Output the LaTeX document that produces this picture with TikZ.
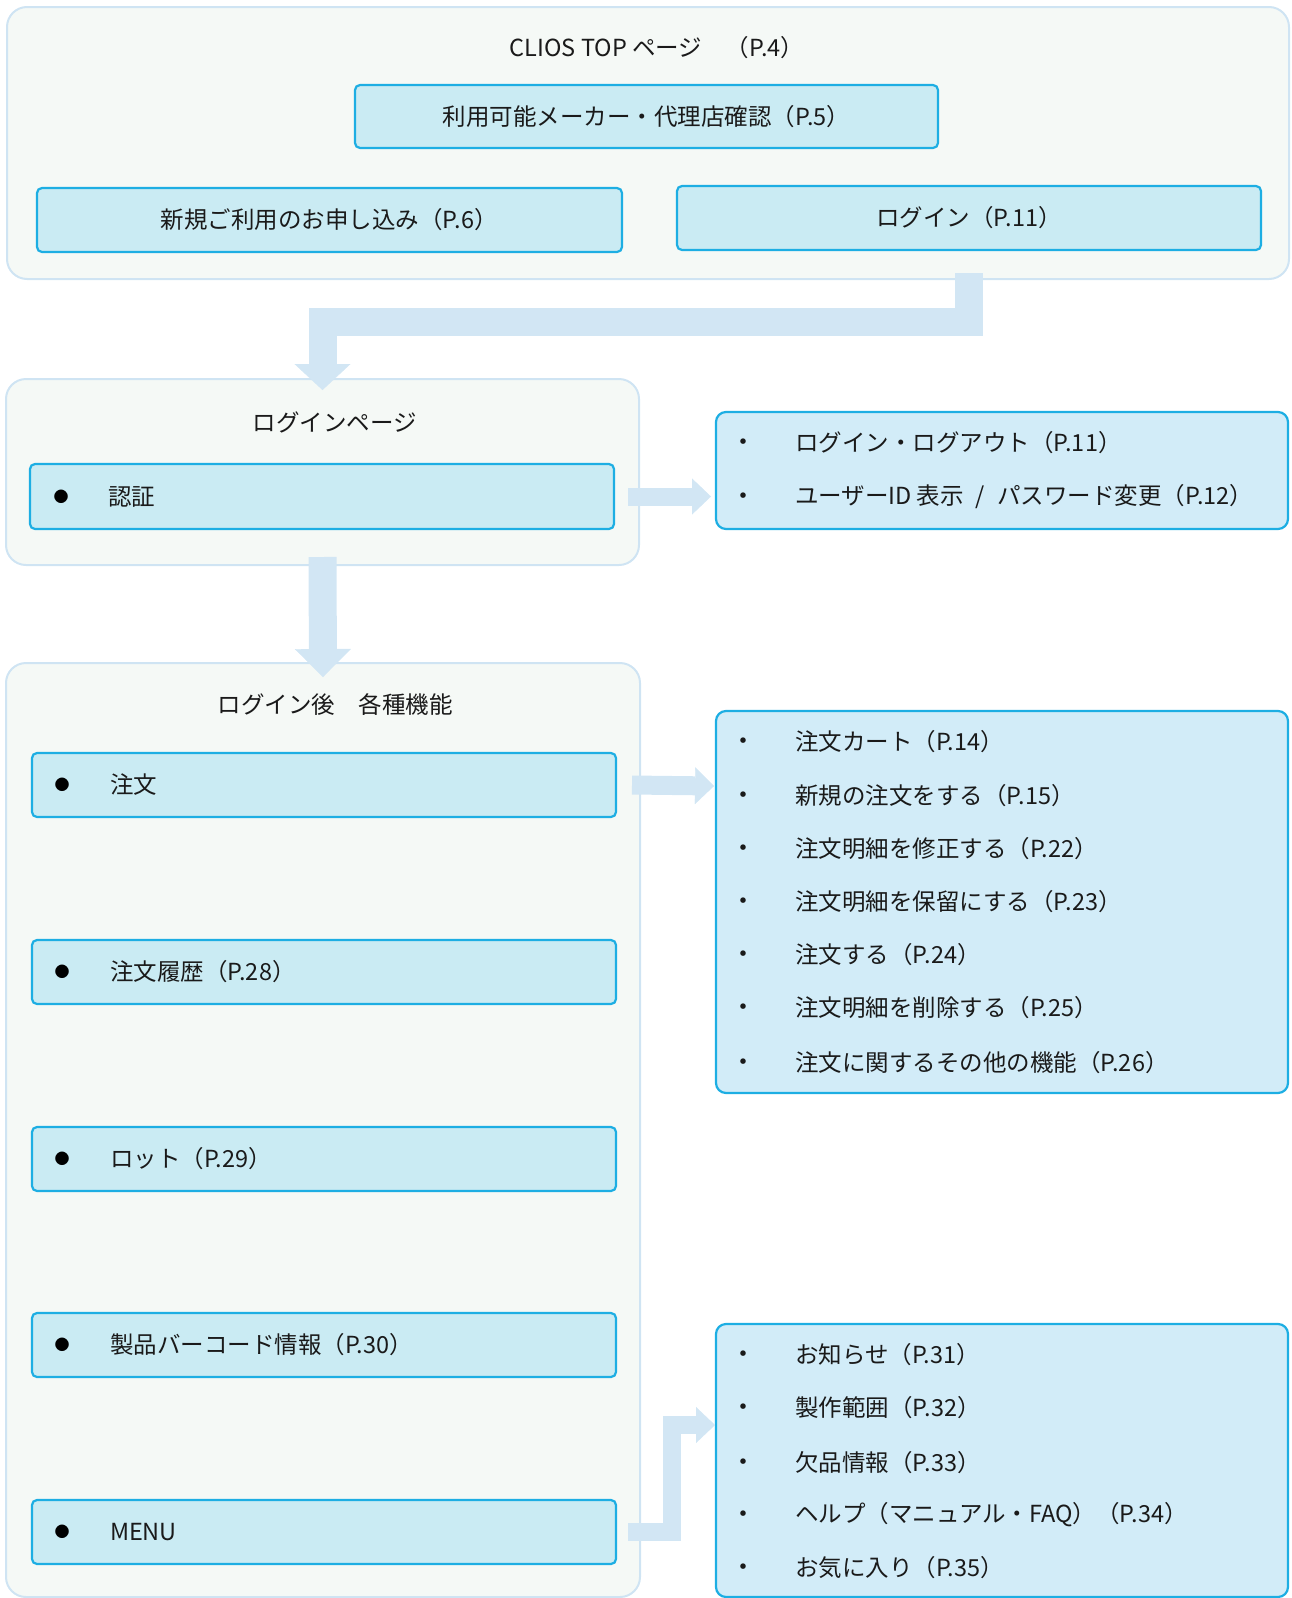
\documentclass[tikz,border=0pt]{standalone}
\usepackage{fontspec}
\newfontfamily\jp{Noto Sans CJK JP}
\usetikzlibrary{calc,arrows.meta}
\definecolor{contF}{HTML}{F5F9F6}
\definecolor{contB}{HTML}{CFE4F3}
\definecolor{lboxF}{HTML}{CAEBF3}
\definecolor{rboxF}{HTML}{D2ECF8}
\definecolor{boxB}{HTML}{1DAEE3}
\definecolor{flowC}{HTML}{D2E6F4}
\definecolor{txt}{HTML}{1A1A1A}
\begin{document}
\begin{tikzpicture}[x=1pt,y=-1pt,
  every node/.style={inner sep=0pt,outer sep=0pt},
  container/.style={draw=contB,fill=contF,line width=2pt,rounded corners=20pt,anchor=north west},
  lbox/.style={draw=boxB,fill=lboxF,line width=2.2pt,rounded corners=5pt,anchor=north west,
    font=\jp\fontsize{23.5pt}{28pt}\selectfont,text=txt},
  rbox/.style={draw=boxB,fill=rboxF,line width=2.2pt,rounded corners=10pt,anchor=north west},
  ttl/.style={font=\jp\fontsize{23.5pt}{28pt}\selectfont,text=txt},
  itm/.style={font=\jp\fontsize{23.5pt}{28pt}\selectfont,text=txt,anchor=west},
  dot/.style={font=\jp\fontsize{26pt}{30pt}\selectfont,text=txt},
  bigdot/.style={font=\jp\fontsize{15pt}{18pt}\selectfont,text=black},
  flow/.style={draw=flowC,line join=miter,line cap=butt},
]
\useasboundingbox (0,0) rectangle (1292,1598);

% ---------- containers ----------
\node[container,minimum width=1282pt,minimum height=272pt] (contA) at (7,7) {};
\node[container,minimum width=633pt,minimum height=186pt] (contB) at (6,379) {};
\node[container,minimum width=634pt,minimum height=934pt] (contC) at (6,663) {};

% ---------- top page ----------
\node[ttl] (tA) at (657,48) {CLIOS TOP ページ　（P.4）};
\node[lbox,minimum width=583pt,minimum height=63pt] (p5) at (355,85) {利用可能メーカー・代理店確認（P.5）};
\node[lbox,minimum width=585pt,minimum height=64pt] (p6) at (37,188) {新規ご利用のお申し込み（P.6）};
\node[lbox,minimum width=584pt,minimum height=64pt] (login) at (677,186) {ログイン（P.11）};

% ---------- login page ----------
\node[ttl] (tB) at (335,422) {ログインページ};
\node[lbox,minimum width=584pt,minimum height=65pt] (auth) at (30,464) {};
\node[bigdot] (authb) at ($(auth.west)+(31,0)$) {●};
\node[itm] (autht) at ($(auth.west)+(78,0)$) {認証};

\node[rbox,minimum width=572pt,minimum height=117pt] (rb1) at (716,412) {};
\node[dot] (rb1b1) at (743,445) {・};
\node[itm] (rb1t1) at (795,443) {ログイン・ログアウト（P.11）};
\node[dot] (rb1b2) at (743,499) {・};
\node[itm] (rb1t2) at (795,497) {ユーザーID 表示\hspace{12pt}/\hspace{12pt}パスワード変更（P.12）};

% ---------- after login ----------
\node[ttl] (tC) at (335,705) {ログイン後　各種機能};
\node[lbox,minimum width=584pt,minimum height=64pt] (ord) at (32,753) {};
\node[lbox,minimum width=584pt,minimum height=64pt] (hist) at (32,940) {};
\node[lbox,minimum width=584pt,minimum height=64pt] (lot) at (32,1127) {};
\node[lbox,minimum width=584pt,minimum height=64pt] (bar) at (32,1313) {};
\node[lbox,minimum width=584pt,minimum height=64pt] (menu) at (32,1500) {};
\foreach \b/\t in {ord/注文, hist/注文履歴（P.28）, lot/ロット（P.29）, bar/製品バーコード情報（P.30）, menu/MENU}{
  \node[bigdot] (\b-d) at ($(\b.west)+(30,0)$) {●};
  \node[itm] (\b-t) at ($(\b.west)+(78,0)$) {\t};
}

\node[rbox,minimum width=572pt,minimum height=382pt] (rb2) at (716,711) {};
\foreach \y/\t [count=\i] in {742/注文カート（P.14）, 796/新規の注文をする（P.15）, 849/注文明細を修正する（P.22）,
  902/注文明細を保留にする（P.23）, 955/注文する（P.24）, 1008/注文明細を削除する（P.25）,
  1063/注文に関するその他の機能（P.26）}{
  \node[dot] (rb2b\i) at (743,\y+2) {・};
  \node[itm] (rb2t\i) at (795,\y) {\t};
}

\node[rbox,minimum width=572pt,minimum height=273pt] (rb3) at (716,1324) {};
\foreach \y/\t [count=\i] in {1355/お知らせ（P.31）, 1408/製作範囲（P.32）, 1463/欠品情報（P.33）,
  1515/ヘルプ（マニュアル・FAQ）（P.34）, 1568/お気に入り（P.35）}{
  \node[dot] (rb3b\i) at (743,\y+2) {・};
  \node[itm] (rb3t\i) at (795,\y) {\t};
}

% ---------- connectors ----------
\coordinate (a1s) at ($(login.south)+(0,23)$);
\coordinate (a1t) at ($(contB.north)+(0,11)$);
\draw[flow,line width=28pt,-{Triangle[width=56pt,length=26pt,line width=0.3pt]}]
  (a1s) |- ($(contB.north)+(0,-57.5)$) -- (a1t);

\coordinate (a2s) at ($(contB.south)+(0,-8)$);
\coordinate (a2t) at ($(contC.north)+(0,14)$);
\draw[flow,line width=28pt,-{Triangle[width=56pt,length=28pt,line width=0.3pt]}] (a2s) -- (a2t);

\coordinate (a3s) at ($(auth.east)+(14,0)$);
\coordinate (a3t) at ($(rb1.west |- auth.east)+(-5,0)$);
\draw[flow,line width=18pt,-{Triangle[width=36pt,length=19pt,line width=0.3pt]}] (a3s) -- (a3t);

\coordinate (a4s) at ($(ord.east)+(16,0)$);
\coordinate (a4t) at ($(rb2.west |- ord.east)+(-2,1)$);
\draw[flow,line width=19pt,-{Triangle[width=37pt,length=19pt,line width=0.3pt]}] (a4s) -- (a4t);

\coordinate (a5s) at ($(menu.east)+(12,0)$);
\coordinate (a5t) at ($(rb3.north west)+(-1,101)$);
\draw[flow,line width=18pt,-{Triangle[width=36pt,length=19pt,line width=0.3pt]}]
  (a5s) -- ++(44,0) |- (a5t);
\end{tikzpicture}
\end{document}
